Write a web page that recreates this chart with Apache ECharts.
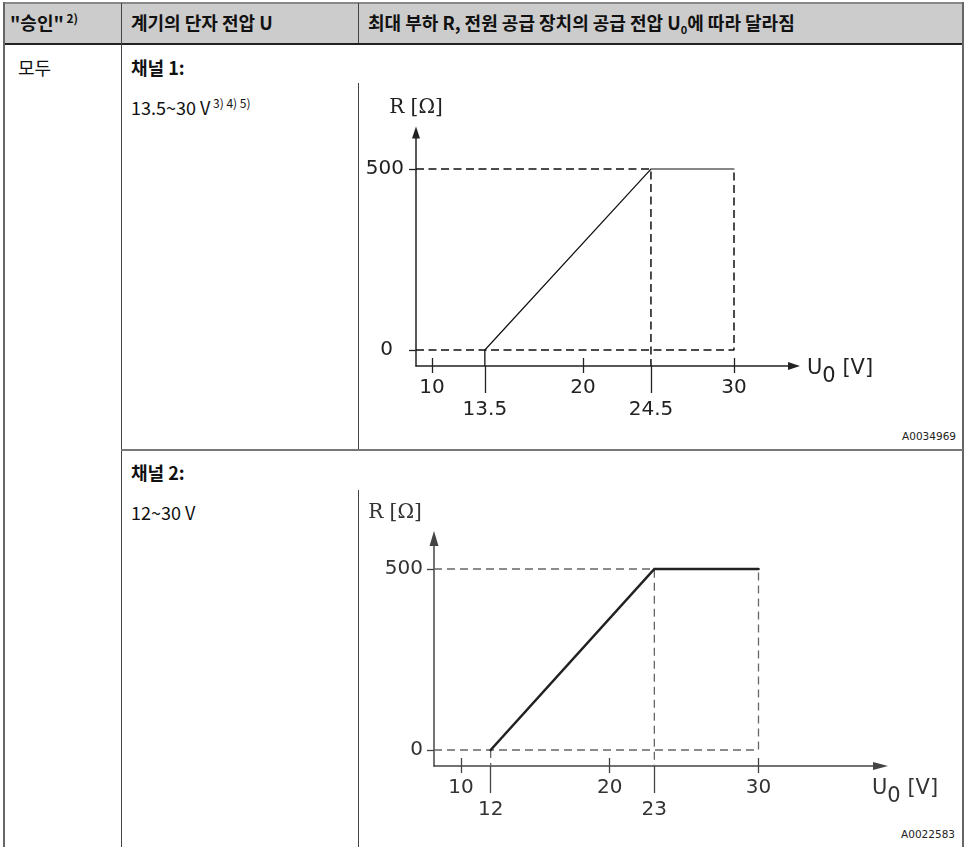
<!DOCTYPE html>
<html>
<head>
<meta charset="utf-8">
<script src="https://cdn.jsdelivr.net/npm/echarts@6/dist/echarts.min.js"></script>
<style>
html,body{margin:0;padding:0;background:#fff;}
#page{position:relative;width:967px;height:847px;overflow:hidden;font-family:"Noto Sans CJK KR","Noto Sans",sans-serif;color:#111;}
.ln{position:absolute;}
.t{position:absolute;white-space:nowrap;font-size:18px;line-height:24px;}
.b{font-weight:bold;}
.sp{font-size:12px;position:relative;top:-7px;}
.sb{font-size:11px;position:relative;top:4px;}
.code{position:absolute;white-space:nowrap;font-family:"DejaVu Sans",sans-serif;font-size:10.5px;line-height:14px;color:#222;text-align:right;}
#chart{position:absolute;left:0;top:0;width:967px;height:847px;}
</style>
</head>
<body>
<div id="page">
  <!-- table frame -->
  <div class="ln" style="left:3px;top:3px;width:960px;height:40px;background:#cccccc"></div>
  <div class="ln" style="left:3px;top:2px;width:960px;height:2px;background:#888"></div>
  <div class="ln" style="left:3px;top:43px;width:960px;height:1.5px;background:#222"></div>
  <div class="ln" style="left:3px;top:2px;width:1.5px;height:845px;background:#666"></div>
  <div class="ln" style="left:962px;top:2px;width:1.5px;height:845px;background:#666"></div>
  <div class="ln" style="left:121px;top:3px;width:1px;height:844px;background:#444"></div>
  <div class="ln" style="left:358px;top:3px;width:1px;height:40px;background:#444"></div>
  <div class="ln" style="left:358px;top:83px;width:1px;height:366px;background:#444"></div>
  <div class="ln" style="left:121px;top:449px;width:842px;height:2px;background:#777"></div>
  <div class="ln" style="left:358px;top:490px;width:1px;height:357px;background:#444"></div>

  <div class="t b" style="left:10px;top:10px">"승인"<span class="sp"> 2)</span></div>
  <div class="t b" style="left:131px;top:10px">계기의 단자 전압 U</div>
  <div class="t b" style="left:368px;top:10px">최대 부하 R, 전원 공급 장치의 공급 전압 U<span class="sb">0</span>에 따라 달라짐</div>
  <div class="t" style="left:18px;top:55px">모두</div>
  <div class="t b" style="left:131px;top:55px">채널 1:</div>
  <div class="t" style="left:131px;top:95px">13.5~30 V<span class="sp"> 3) 4) 5)</span></div>
  <div class="t b" style="left:131px;top:460px">채널 2:</div>
  <div class="t" style="left:131px;top:500px">12~30 V</div>
  <div class="code" style="right:11px;top:429px">A0034969</div>
  <div class="code" style="right:12px;top:827px">A0022583</div>

  <div id="chart"></div>
</div>
<script>
// channel 1: load limit vs supply voltage
var ch1Volt = [13.5, 24.5, 30];
var ch1Load = [0, 500, 500];
var ch1MajorTicks = [10, 20, 30];
var ch1MarkTicks = [13.5, 24.5];
// channel 2
var ch2Volt = [12, 23, 30];
var ch2Load = [0, 500, 500];
var ch2MajorTicks = [10, 20, 30];
var ch2MarkTicks = [12, 23];
var loadTicks = [0, 500];

// pixel layout of the two plots (axis line ends, calibration points)
var L1 = {x0:416, x1:794, yB:366, yT:132.5, xa:[10,432], xb:[30,734], ya:[0,350], yb:[500,169]};
var L2 = {x0:434, x1:880.5, yB:766, yT:538.5, xa:[10,460.9], xb:[30,758.5], ya:[0,750], yb:[500,569]};

function range(p0, p1, a, b) {
    var k = (b[1]-a[1])/(b[0]-a[0]);
    return [a[0]+(p0-a[1])/k, a[0]+(p1-a[1])/k];
}

var LBL = 'DejaVu Sans';
var uRich = function(c){ return {
    u:{fontFamily:LBL,fontSize:21,color:c,lineHeight:22,verticalAlign:'top'},
    s:{fontFamily:LBL,fontSize:21,color:c,lineHeight:22,padding:[8,0,0,0],verticalAlign:'top'}
};};

function build(g, L, volt, load, major, marks, st) {
    var xr = range(L.x0, L.x1, L.xa, L.xb);
    var yr = range(L.yB, L.yT, L.ya, L.yb);
    var grid = {left:L.x0, top:L.yT, width:L.x1-L.x0, height:L.yB-L.yT, outerBoundsMode:'none', containLabel:false};
    var base = {gridIndex:g, type:'value', min:xr[0], max:xr[1], position:'bottom', splitLine:{show:false}};
    var xAxes = [
        Object.assign({}, base, {
            axisLine:{show:true, onZero:false, symbol:['none','triangle'], symbolSize:st.xArrow,
                lineStyle:{color:st.axis, width:1.5}},
            axisTick:{show:true, customValues:major, length:7, lineStyle:{color:st.axis, width:1.3}},
            axisLabel:{show:true, customValues:major, margin:22, verticalAlign:'middle',
                fontFamily:LBL, fontSize:20, color:st.text},
            name:'{u|U}{s|0}{u| [V]}', nameLocation:'end', nameGap:st.uGap, nameMoveOverlap:false,
            nameTextStyle:{align:'left', verticalAlign:st.uVA, padding:st.uPad, rich:uRich(st.text)}
        }),
        Object.assign({}, base, {
            axisLine:{show:false, onZero:false},
            axisTick:{show:true, inside:true, customValues:major, length:8, lineStyle:{color:st.axis, width:1.3}},
            axisLabel:{show:false}
        }),
        Object.assign({}, base, {
            axisLine:{show:false, onZero:false},
            axisTick:{show:true, customValues:marks, length:27, lineStyle:{color:st.axis, width:1.3}},
            axisLabel:{show:true, customValues:marks, margin:44, verticalAlign:'middle',
                fontFamily:LBL, fontSize:20, color:st.text}
        })
    ];
    var yAxis = {gridIndex:g, type:'value', min:yr[0], max:yr[1], splitLine:{show:false},
        axisLine:{show:true, onZero:false, symbol:['none','triangle'], symbolSize:st.yArrow,
            lineStyle:{color:st.axis, width:1.5}},
        axisTick:{show:true, customValues:loadTicks, length:7, lineStyle:{color:st.axis, width:1.3}},
        axisLabel:{show:true, customValues:loadTicks, margin:st.yMargin, fontFamily:LBL, fontSize:20, color:st.text,
            formatter:function(v){ return v === 0 ? '{z|0}' : String(v); },
            rich:{z:{fontFamily:LBL, fontSize:20, color:st.text, padding:[0, st.zeroPad, 0, 0]}}},
        name:'R [Ω]', nameLocation:'end', nameGap:st.rGap, nameMoveOverlap:false,
        nameTextStyle:{fontFamily:'DejaVu Serif', fontSize:20, color:st.text, align:'center',
            verticalAlign:'middle', padding:st.rPad}
    };
    var n = volt.length;
    var dash = {type:st.dash, color:st.guide, width:st.guideW};
    var common = {type:'line', xAxisIndex:g*3, yAxisIndex:g, symbol:'none', silent:true, clip:false, animation:false};
    var series = [
        Object.assign({}, common, {data:[[xr[0], load[1]], [volt[1], load[1]], [volt[1], yr[0]]], lineStyle:dash, z:2}),
        Object.assign({}, common, {data:[[xr[0], load[0]], [volt[n-1], load[0]], [volt[n-1], load[n-1]]], lineStyle:dash, z:2}),
        Object.assign({}, common, {data:[[volt[0], load[0]], [volt[0], yr[0]]], lineStyle:st.drop, z:2}),
        Object.assign({}, common, {data:volt.map(function(v,i){return [v, load[i]];}),
            lineStyle:{color:st.line, width:st.lineW, cap:'round', join:'miter'}, z:3})
    ];
    return {grid:grid, xAxes:xAxes, yAxis:yAxis, series:series};
}

var c1 = build(0, L1, ch1Volt, ch1Load, ch1MajorTicks, ch1MarkTicks, {
    axis:'#222', text:'#222', guide:'#111', guideW:1.5, dash:[8,4.5], line:'#111', lineW:1.2,
    drop:{color:'#111', width:1.3}, xArrow:[8,12], yArrow:[8,12], yMargin:12, zeroPad:11,
    uGap:13, uVA:'middle', uPad:[6,0,0,0], rGap:24.5, rPad:0
});
var c2 = build(1, L2, ch2Volt, ch2Load, ch2MajorTicks, ch2MarkTicks, {
    axis:'#444', text:'#333', guide:'#666', guideW:1.3, dash:[8,5], line:'#222', lineW:2.6,
    drop:{type:[8,5], color:'#666', width:1.3}, xArrow:[8,15], yArrow:[9,15], yMargin:11, zeroPad:0,
    uGap:-8.5, uVA:'top', uPad:[12,0,0,0], rGap:25.5, rPad:[0,78,0,0]
});

var chart = echarts.init(document.getElementById('chart'), null, {renderer:'canvas'});
chart.setOption({
    backgroundColor:'transparent',
    animation:false,
    grid:[c1.grid, c2.grid],
    xAxis:c1.xAxes.concat(c2.xAxes),
    yAxis:[c1.yAxis, c2.yAxis],
    series:c1.series.concat(c2.series)
});
</script>
</body>
</html>
